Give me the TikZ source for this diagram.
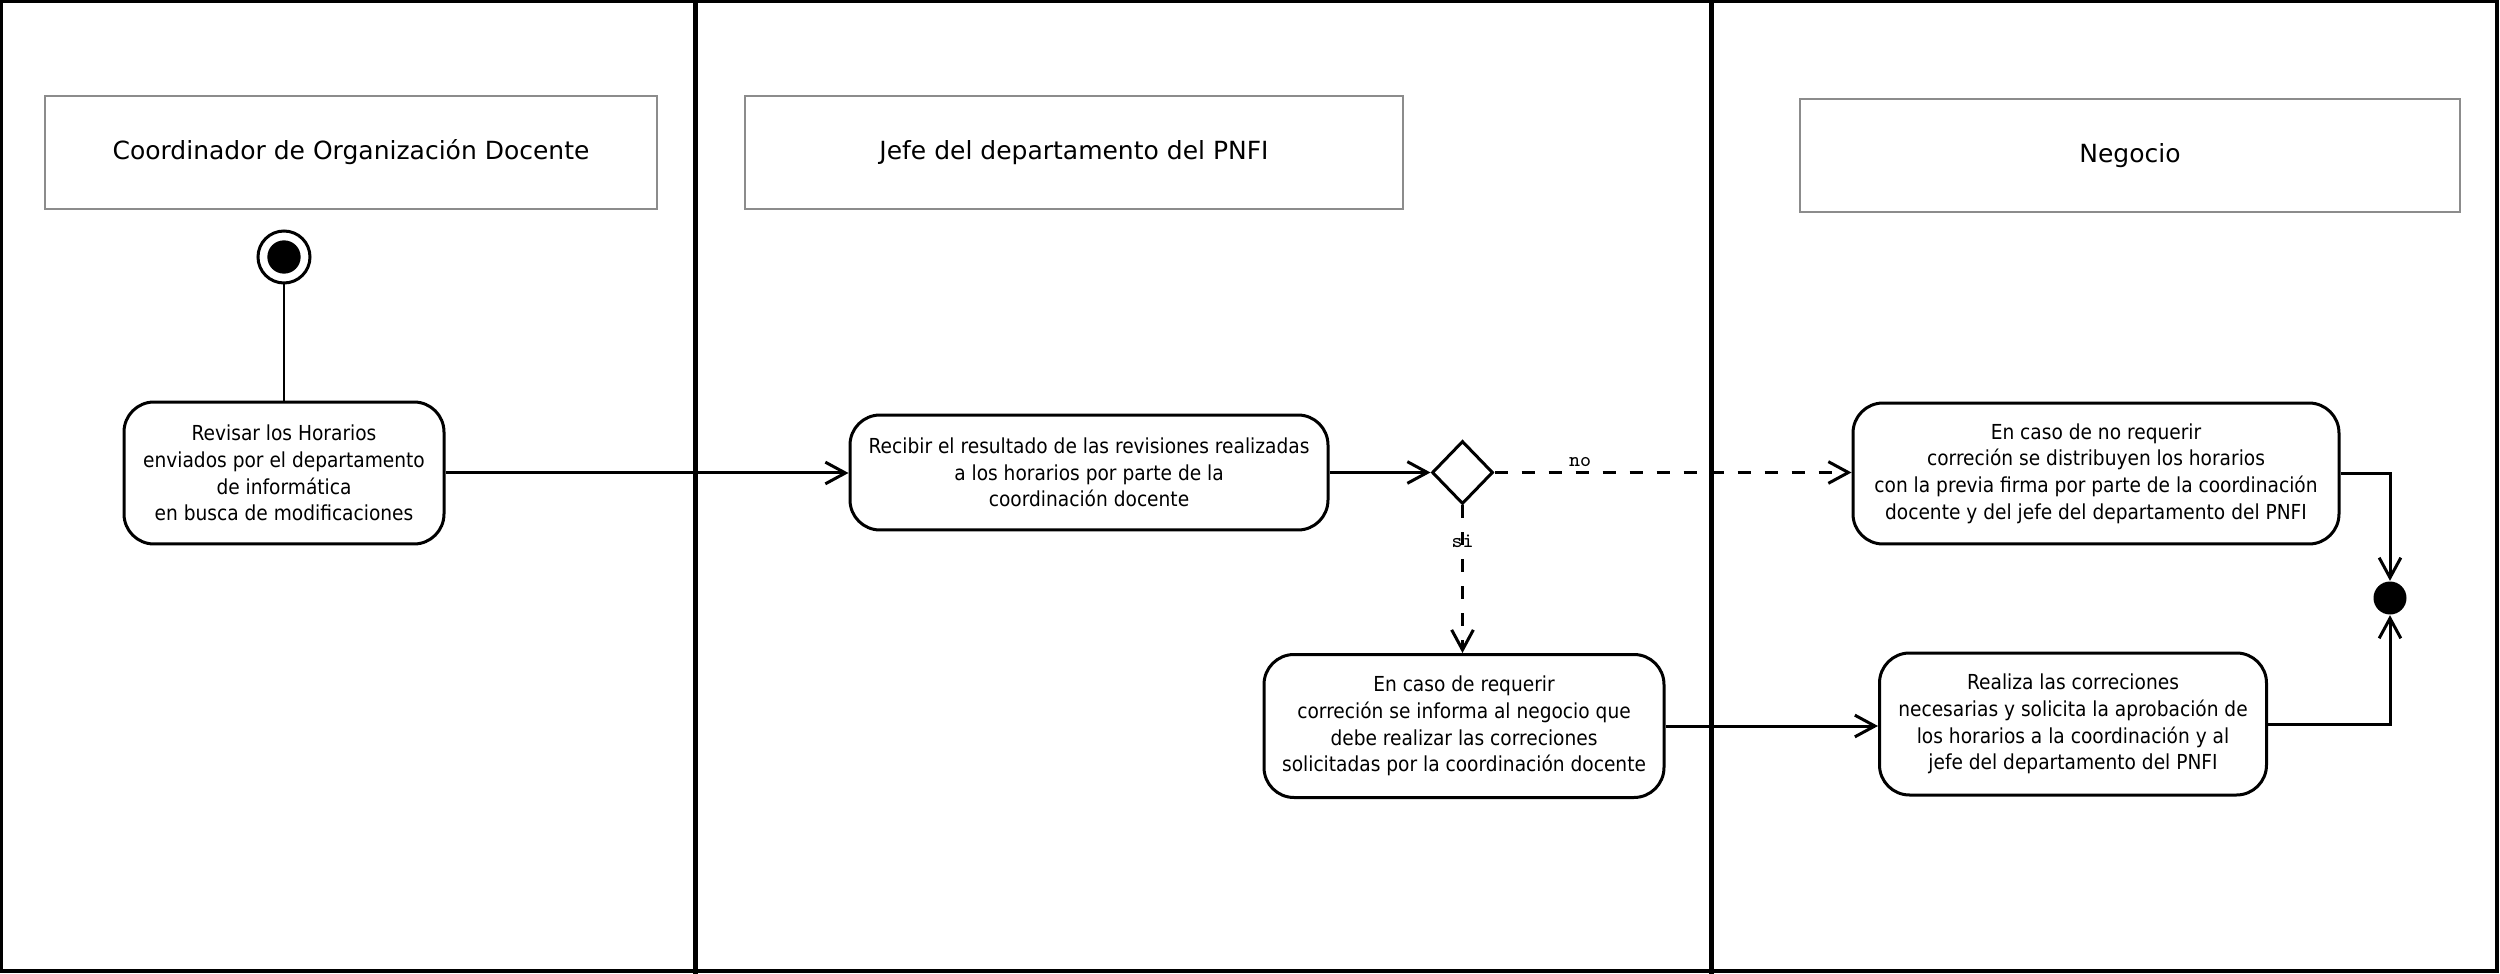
\documentclass[tikz,border=0pt]{standalone}
\usepackage{fontspec}
\setmainfont{DejaVu Sans}
\newfontfamily\boxfont[FakeStretch=0.9]{DejaVu Sans}
\usetikzlibrary{arrows.meta,shapes.geometric}
\begin{document}
\begin{tikzpicture}[x=0.3pt,y=-0.3pt,
  lanehead/.style={draw=black!45, line width=0.45pt, minimum height=33.9pt, inner sep=0pt,
    font=\fontsize{7.5pt}{9pt}\selectfont},
  act/.style={draw, line width=0.9pt, rounded corners=9pt, align=center, inner sep=0pt,
    font=\boxfont\fontsize{6.2pt}{8pt}\selectfont},
  flow/.style={line width=0.9pt, -{Straight Barb[length=6pt,width=6.5pt]}},
  alt/.style={flow, dash pattern=on 3.9pt off 4.2pt},
  guard/.style={font=\ttfamily\fontsize{6.2pt}{7pt}\selectfont, inner sep=1.2pt},
  lanesep/.style={line width=1.5pt}]
\useasboundingbox (0,0) rectangle (2500,974);
% frame and lanes
\draw[line width=1pt] (1.7,1.7) rectangle (2497,971);
\draw[lanesep] (695,0) -- (695,974);
\draw[lanesep] (1711,0) -- (1711,974);
% lane headers
\node[lanehead, minimum width=183.6pt] (h1) at (351,152.5) {Coordinador de Organización Docente};
\node[lanehead, minimum width=197.4pt] (h2) at (1074,152.5) {Jefe del departamento del PNFI};
\node[lanehead, minimum width=198pt] (h3) at (2130,155.5) {Negocio};
% initial / final
\node[circle, draw, line width=0.9pt, minimum size=15.6pt, inner sep=0pt] (start) at (284,257) {};
\node[circle, fill, minimum size=10pt, inner sep=0pt] (startdot) at (start.center) {};
\node[circle, fill, minimum size=9.9pt, inner sep=0pt] (end) at (2390,598) {};
% activities
\node[act, minimum width=96pt, minimum height=42.6pt] (b1) at (284,473)
  {Revisar los Horarios\\enviados por el departamento\\de informática\\en busca de modificaciones};
\node[act, minimum width=143.4pt, minimum height=34.5pt] (b2) at (1089,472.5)
  {Recibir el resultado de las revisiones realizadas\\a los horarios por parte de la\\coordinación docente};
\node[diamond, draw, line width=0.9pt, minimum width=18.3pt, minimum height=18.9pt, inner sep=0pt] (dec) at (1462.5,472.5) {};
\node[act, minimum width=145.8pt, minimum height=42.3pt] (b3) at (2096,473.5)
  {En caso de no requerir\\correción se distribuyen los horarios\\con la previa firma por parte de la coordinación\\docente y del jefe del departamento del PNFI};
\node[act, minimum width=120pt, minimum height=42.9pt] (b4) at (1464,726)
  {En caso de requerir\\correción se informa al negocio que\\debe realizar las correciones\\solicitadas por la coordinación docente};
\node[act, minimum width=116.1pt, minimum height=42.6pt] (b5) at (2073,724)
  {Realiza las correciones\\necesarias y solicita la aprobación de\\los horarios a la coordinación y al\\jefe del departamento del PNFI};
% connectors
\draw[line width=0.6pt] (start) -- (b1);
\draw[flow] (b1.east) -- (b1.east -| b2.west);
\draw[flow] (b2.east) -- (b2.east -| dec.west);
\draw[alt] (dec.east) -- node[guard, above, pos=0.24] {no} (dec.east -| b3.west);
\draw[alt] (dec.south) -- node[guard, pos=0.24] {si} (dec.south |- b4.north);
\draw[flow] (b4.east) -- (b4.east -| b5.west);
\draw[flow] (b3.east) -| (end.north);
\draw[flow] (b5.east) -| (end.south);
\end{tikzpicture}
\end{document}
